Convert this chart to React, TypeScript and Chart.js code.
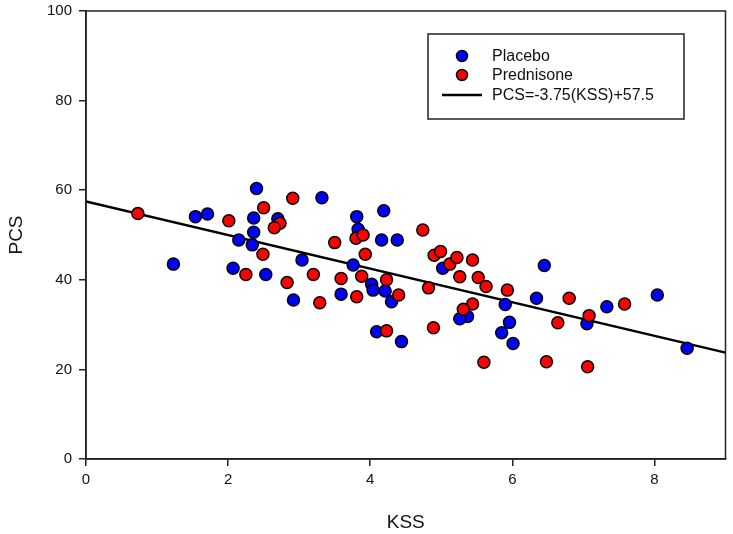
import React, { useEffect, useRef } from "react";
import { Chart, registerables } from "chart.js";

Chart.register(...registerables);

// Placebo (blue)
const placeboKSS = [1.54, 1.71, 2.40, 2.36, 2.70, 2.36, 2.15, 2.34, 1.23, 2.07, 2.53, 2.92, 3.04, 3.32, 3.59, 3.76, 3.81, 3.83, 4.19, 4.16, 4.38, 4.02, 4.04, 4.21, 4.30, 4.09, 4.44, 5.02, 5.37, 5.26, 5.85, 5.90, 5.96, 6.01, 6.45, 6.34, 7.05, 7.33, 8.04, 8.46];
const placeboPCS = [54.1, 54.7, 60.4, 53.8, 53.6, 50.6, 48.9, 47.8, 43.5, 42.6, 41.2, 35.5, 44.4, 58.3, 36.8, 43.3, 54.1, 51.3, 55.4, 48.9, 48.9, 39.0, 37.7, 37.5, 35.1, 28.4, 26.2, 42.6, 31.8, 31.3, 28.2, 34.5, 30.5, 25.8, 43.2, 35.9, 30.2, 34.0, 36.6, 24.7];

// Prednisone (red)
const prednisoneKSS = [0.73, 2.01, 2.50, 2.73, 2.65, 2.91, 2.49, 2.25, 2.83, 3.20, 3.29, 3.50, 3.59, 3.80, 3.90, 3.93, 3.81, 3.88, 4.23, 4.40, 4.23, 4.74, 4.82, 4.89, 4.90, 4.99, 5.12, 5.22, 5.44, 5.26, 5.52, 5.63, 5.44, 5.31, 5.93, 6.80, 6.64, 7.08, 7.58, 5.60, 6.48, 7.06];
const prednisonePCS = [54.8, 53.2, 56.1, 52.6, 51.6, 58.2, 45.7, 41.2, 39.4, 41.2, 34.9, 48.3, 40.3, 49.3, 50.0, 45.7, 36.2, 40.8, 40.0, 36.6, 28.6, 51.1, 38.2, 29.3, 45.5, 46.3, 43.5, 45.0, 44.4, 40.7, 40.5, 38.5, 34.6, 33.4, 37.7, 35.9, 30.4, 32.0, 34.6, 21.6, 21.7, 20.6];

// Regression line
const slope = -3.75;
const intercept = 57.5;
const lineKSS = [0, 9];

const xTicks = [0, 2, 4, 6, 8];
const yTicks = [0, 20, 40, 60, 80, 100];

const legendLabels = ["Placebo", "Prednisone", "PCS=-3.75(KSS)+57.5"];

const FONT = "'Liberation Sans', Arial, sans-serif";
const AXIS_COLOR = "#222";

const framePlugin = {
  id: "frameAndLegend",
  afterDraw(chart: any) {
    const { ctx, chartArea } = chart;
    ctx.save();
    ctx.strokeStyle = AXIS_COLOR;
    ctx.lineWidth = 1.5;
    ctx.strokeRect(chartArea.left, chartArea.top, chartArea.right - chartArea.left, chartArea.bottom - chartArea.top);

    // legend box
    const bx = 428, by = 34, bw = 256, bh = 85;
    ctx.fillStyle = "#fff";
    ctx.fillRect(bx, by, bw, bh);
    ctx.strokeStyle = "#222";
    ctx.lineWidth = 1.5;
    ctx.strokeRect(bx, by, bw, bh);

    const rows = [56, 75, 95];
    const colors = ["#0000FF", "#FF0000"];
    for (let i = 0; i < 2; i++) {
      ctx.beginPath();
      ctx.arc(462, rows[i], 5.5, 0, Math.PI * 2);
      ctx.fillStyle = colors[i];
      ctx.fill();
      ctx.lineWidth = 1.5;
      ctx.strokeStyle = "#000";
      ctx.stroke();
    }
    ctx.beginPath();
    ctx.moveTo(442, rows[2]);
    ctx.lineTo(482, rows[2]);
    ctx.lineWidth = 2.5;
    ctx.strokeStyle = "#000";
    ctx.stroke();

    ctx.fillStyle = "#111";
    ctx.font = `16px ${FONT}`;
    ctx.textBaseline = "middle";
    ctx.textAlign = "left";
    for (let i = 0; i < 3; i++) {
      ctx.fillText(legendLabels[i], 492, rows[i] + 1);
    }
    ctx.restore();
  },
};

export default function App() {
  const canvasRef = useRef<HTMLCanvasElement | null>(null);

  useEffect(() => {
    if (!canvasRef.current) return;
    const placebo = placeboKSS.map((x, i) => ({ x, y: placeboPCS[i] }));
    const pred = prednisoneKSS.map((x, i) => ({ x, y: prednisonePCS[i] }));
    const line = lineKSS.map((x) => ({ x, y: slope * x + intercept }));

    const chart = new Chart(canvasRef.current, {
      type: "scatter",
      data: {
        datasets: [
          {
            label: "Prednisone",
            data: pred,
            backgroundColor: "#FF0000",
            borderColor: "#000",
            borderWidth: 1.5,
            pointRadius: 6,
            order: 0,
          },
          {
            label: "Placebo",
            data: placebo,
            backgroundColor: "#0000FF",
            borderColor: "#000",
            borderWidth: 1.5,
            pointRadius: 6,
            order: 1,
          },
          {
            type: "line",
            label: "PCS=-3.75(KSS)+57.5",
            data: line,
            borderColor: "#000",
            borderWidth: 2.5,
            pointRadius: 0,
            fill: false,
            order: 2,
          } as any,
        ],
      },
      options: {
        animation: false,
        responsive: true,
        maintainAspectRatio: false,
        layout: { padding: { left: 0, right: 5, top: 11, bottom: 0 } },
        plugins: { legend: { display: false }, tooltip: { enabled: false } },
        scales: {
          x: {
            type: "linear",
            min: 0,
            max: 9,
            afterBuildTicks: (s: any) => {
              s.ticks = xTicks.map((v) => ({ value: v }));
            },
            afterFit: (s: any) => {
              s.height = 75;
              s.paddingLeft = 0;
              s.paddingRight = 0;
            },
            grid: { drawOnChartArea: false, drawTicks: true, tickLength: 7, color: AXIS_COLOR, lineWidth: 1.5 },
            border: { display: true, color: AXIS_COLOR, width: 1.5 },
            ticks: { color: "#111", font: { family: FONT, size: 15 }, padding: 5 },
            title: { display: true, text: "KSS", color: "#111", font: { family: FONT, size: 19 }, padding: { top: 4, bottom: 0 } },
          },
          y: {
            type: "linear",
            min: 0,
            max: 100,
            afterBuildTicks: (s: any) => {
              s.ticks = yTicks.map((v) => ({ value: v }));
            },
            afterFit: (s: any) => {
              s.width = 86;
              s.paddingTop = 0;
              s.paddingBottom = 0;
            },
            grid: { drawOnChartArea: false, drawTicks: true, tickLength: 7, color: AXIS_COLOR, lineWidth: 1.5 },
            border: { display: true, color: AXIS_COLOR, width: 1.5 },
            ticks: { color: "#111", font: { family: FONT, size: 15 }, padding: 7 },
            title: { display: true, text: "PCS", color: "#111", font: { family: FONT, size: 19 }, padding: { top: 5, bottom: 4 } },
          },
        },
      },
      plugins: [framePlugin],
    });
    return () => chart.destroy();
  }, []);

  return (
    <div style={{ position: "absolute", left: 0, top: 0, width: 733, height: 534, background: "#fff" }}>
      <canvas ref={canvasRef} />
    </div>
  );
}
